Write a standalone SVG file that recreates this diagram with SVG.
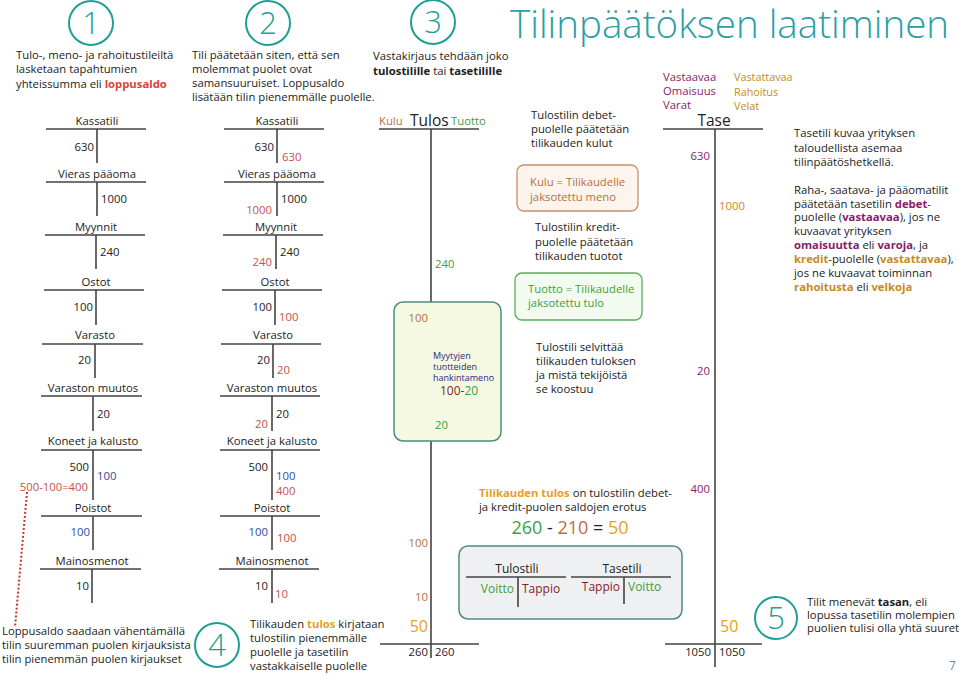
<svg xmlns="http://www.w3.org/2000/svg" width="959" height="675" viewBox="0 0 959 675">
<style>
text{font-family:"Open Sans","Noto Sans","Liberation Sans",sans-serif;font-size:11.3px;fill:#222}
.c{text-anchor:middle}
.e{text-anchor:end}
.b{font-weight:bold}
.ln{stroke:#444;stroke-width:1.6;fill:none}
.circ{fill:none;stroke:#1f9e94;stroke-width:2}
.num{font-size:31px;font-weight:300;fill:#1f9e94;text-anchor:middle}
.red{fill:#c9504a}
.rb{fill:#d9433a;font-weight:bold}
.blue{fill:#2e4ea0}
.brown{fill:#b5703f}
.green{fill:#3e9e3e}
.orange{fill:#e8a020}
.purple{fill:#8b1a6b}
.ob{fill:#c88a20}
.dred{fill:#8b1a2a}
.navy{fill:#2a2a7a}
.big{font-size:15.5px}
</style>

<text x="510" y="38" style="font-size:38.5px;font-weight:300;fill:#2b9ea8">Tilinpäätöksen laatiminen</text>

<g id="step1">
<circle class="circ" cx="91" cy="23" r="22"/><text class="num" x="91" y="34">1</text>
<text x="16" y="59">Tulo-, meno- ja rahoitustileiltä</text>
<text x="16" y="73">lasketaan tapahtumien</text>
<text x="16" y="88">yhteissumma eli <tspan class="rb">loppusaldo</tspan></text>
</g>

<g id="step2">
<circle class="circ" cx="268" cy="23" r="22"/><text class="num" x="268" y="34">2</text>
<text x="192" y="59">Tili päätetään siten, että sen</text>
<text x="192" y="73">molemmat puolet ovat</text>
<text x="192" y="87">samansuuruiset. Loppusaldo</text>
<text x="192" y="101">lisätään tilin pienemmälle puolelle.</text>
</g>

<g id="step3">
<circle class="circ" cx="433" cy="22" r="22"/><text class="num" x="433" y="33">3</text>
<text x="373" y="60">Vastakirjaus tehdään joko</text>
<text x="373" y="75"><tspan class="b">tulostilille</tspan> tai <tspan class="b">tasetilille</tspan></text>
</g>

<g id="connectors">
<path class="ln" d="M46 129H146M97 129V163"/>
<path class="ln" d="M46 182H146M97 182V216"/>
<path class="ln" d="M45 235H145M96 235V269"/>
<path class="ln" d="M44 290H144M96 290V325"/>
<path class="ln" d="M42 344H143M95 344V378"/>
<path class="ln" d="M41 396H142M93 396V431"/>
<path class="ln" d="M41 450H142M93 450V500"/>
<path class="ln" d="M41 516H142M93 516V550"/>
<path class="ln" d="M40 569H141M92 569V603"/>
<path d="M27 492L15 627" stroke="#c0392b" stroke-width="2" stroke-dasharray="2,2" fill="none"/>
<path class="ln" d="M224 129H324M277 129V163"/>
<path class="ln" d="M224 182H324M277 182V216"/>
<path class="ln" d="M223 235H323M276 235V269"/>
<path class="ln" d="M222 290H322M275 290V325"/>
<path class="ln" d="M221 344H321M273 344V378"/>
<path class="ln" d="M220 396H320M272 396V431"/>
<path class="ln" d="M220 450H320M272 450V500"/>
<path class="ln" d="M220 516H320M272 516V550"/>
<path class="ln" d="M219 569H319M272 569V603"/>
<path class="ln" d="M379 129H479M431 129V658M380 644H479" stroke="#333"/>
<path class="ln" d="M663 129H763M715 129V667M665 644H762" stroke="#333"/>
</g>

<g id="col1">
<text class="c" x="97" y="125">Kassatili</text>
<text class="e" x="94" y="151">630</text>
<text class="c" x="97" y="178">Vieras pääoma</text>
<text x="101" y="203">1000</text>
<text class="c" x="96" y="231">Myynnit</text>
<text x="100" y="256">240</text>
<text class="c" x="96" y="286">Ostot</text>
<text class="e" x="93" y="311">100</text>
<text class="c" x="95" y="339">Varasto</text>
<text class="e" x="91" y="364">20</text>
<text class="c" x="93" y="392">Varaston muutos</text>
<text x="97" y="418">20</text>
<text class="c" x="93" y="445">Koneet ja kalusto</text>
<text class="e" x="89" y="471">500</text>
<text class="blue" x="97" y="480">100</text>
<text class="red e" x="88" y="491">500-100=400</text>
<text class="c" x="93" y="512">Poistot</text>
<text class="blue e" x="90" y="536">100</text>
<text class="c" x="92" y="565">Mainosmenot</text>
<text class="e" x="89" y="590">10</text>
<text x="2" y="635">Loppusaldo saadaan vähentämällä</text>
<text x="2" y="649">tilin suuremman puolen kirjauksista</text>
<text x="2" y="663">tilin pienemmän puolen kirjaukset</text>
</g>

<g id="col2">
<text class="c" x="277" y="125">Kassatili</text>
<text class="e" x="274" y="151">630</text>
<text class="red" x="282" y="161">630</text>
<text class="c" x="277" y="178">Vieras pääoma</text>
<text x="281" y="203">1000</text>
<text class="red e" x="272" y="214">1000</text>
<text class="c" x="276" y="231">Myynnit</text>
<text x="280" y="256">240</text>
<text class="red e" x="272" y="266">240</text>
<text class="c" x="275" y="286">Ostot</text>
<text class="e" x="272" y="311">100</text>
<text class="red" x="279" y="321">100</text>
<text class="c" x="273" y="339">Varasto</text>
<text class="e" x="270" y="364">20</text>
<text class="red" x="277" y="374">20</text>
<text class="c" x="272" y="392">Varaston muutos</text>
<text x="276" y="418">20</text>
<text class="red e" x="268" y="428">20</text>
<text class="c" x="272" y="445">Koneet ja kalusto</text>
<text class="e" x="268" y="471">500</text>
<text class="blue" x="276" y="480">100</text>
<text class="red" x="276" y="495">400</text>
<text class="c" x="272" y="512">Poistot</text>
<text class="blue e" x="268" y="536">100</text>
<text class="red" x="277" y="542">100</text>
<text class="c" x="272" y="565">Mainosmenot</text>
<text class="e" x="268" y="590">10</text>
<text class="red" x="275" y="598">10</text>
</g>

<g id="step4">
<circle class="circ" cx="217" cy="645" r="22"/><text class="num" x="217" y="656">4</text>
<text x="250" y="628">Tilikauden <tspan class="orange b">tulos</tspan> kirjataan</text>
<text x="250" y="642">tulostilin pienemmälle</text>
<text x="250" y="656">puolelle ja tasetilin</text>
<text x="250" y="670">vastakkaiselle puolelle</text>
</g>

<g id="tulos">
<rect x="394" y="302" width="107" height="139" rx="9" fill="#f5f9e1" stroke="#4f8a80" stroke-width="1.5"/>
<text class="brown" x="379" y="125">Kulu</text>
<text class="big" x="410" y="126">Tulos</text>
<text class="green" x="451" y="125">Tuotto</text>
<text class="green" x="435" y="268">240</text>
<text class="brown e" x="428" y="322">100</text>
<text class="navy" x="433" y="359" style="font-size:9px">Myytyjen</text>
<text class="navy" x="433" y="370" style="font-size:9px">tuotteiden</text>
<text class="navy" x="433" y="381" style="font-size:9px">hankintameno</text>
<text x="440" y="395" style="font-size:12px"><tspan class="dred">100-</tspan><tspan class="green">20</tspan></text>
<text class="green" x="435" y="429">20</text>
<text class="brown e" x="428" y="547">100</text>
<text class="brown e" x="428" y="601">10</text>
<text class="orange e" x="428" y="632" style="font-size:16px">50</text>
<text class="e" x="428" y="656">260</text>
<text x="435" y="656">260</text>
</g>

<g id="kulu-info">
<text x="531" y="119">Tulostilin debet-</text>
<text x="531" y="133">puolelle päätetään</text>
<text x="531" y="147">tilikauden kulut</text>
<rect x="517" y="165" width="121" height="46" rx="7" fill="#fdf4ee" stroke="#c8906a" stroke-width="1.3"/>
<text class="brown" x="530" y="186">Kulu = Tilikaudelle</text>
<text class="brown" x="530" y="201">jaksotettu meno</text>
</g>

<g id="tuotto-info">
<text x="535" y="231">Tulostilin kredit-</text>
<text x="535" y="246">puolelle päätetään</text>
<text x="535" y="260">tilikauden tuotot</text>
<rect x="515" y="273" width="127" height="47" rx="7" fill="#f3faf0" stroke="#5aad5a" stroke-width="1.3"/>
<text class="green" x="528" y="293">Tuotto = Tilikaudelle</text>
<text class="green" x="528" y="307">jaksotettu tulo</text>
<text x="536" y="351">Tulostili selvittää</text>
<text x="536" y="365">tilikauden tuloksen</text>
<text x="536" y="379">ja mistä tekijöistä</text>
<text x="536" y="393">se koostuu</text>
</g>

<g id="tulos-info">
<text x="479" y="497"><tspan class="orange b">Tilikauden tulos</tspan> on tulostilin debet-</text>
<text x="479" y="511">ja kredit-puolen saldojen erotus</text>
<text class="c" x="570" y="534" style="font-size:18px"><tspan class="green">260</tspan> - <tspan class="brown">210</tspan> = <tspan class="orange">50</tspan></text>
</g>

<g id="legend">
<rect x="459" y="546" width="223" height="73" rx="9" fill="#eef0f2" stroke="#4e8a86" stroke-width="1.5"/>
<text class="c" x="517" y="573" style="font-size:12px">Tulostili</text>
<path class="ln" d="M466 577H566M518 577V607"/>
<text class="green e" x="514" y="593" style="font-size:12px">Voitto</text>
<text class="dred" x="522" y="593" style="font-size:12px">Tappio</text>
<text class="c" x="622" y="573" style="font-size:12px">Tasetili</text>
<path class="ln" d="M571 577H671M624 577V604"/>
<text class="dred e" x="620" y="591" style="font-size:12px">Tappio</text>
<text class="green" x="628" y="591" style="font-size:12px">Voitto</text>
</g>

<g id="tase">
<text class="purple" x="663" y="81">Vastaavaa</text>
<text class="purple" x="663" y="95">Omaisuus</text>
<text class="purple" x="663" y="109">Varat</text>
<text class="ob" x="734" y="81" style="font-size:10.8px">Vastattavaa</text>
<text class="ob" x="734" y="96" style="font-size:10.8px">Rahoitus</text>
<text class="ob" x="734" y="110" style="font-size:10.8px">Velat</text>
<text class="big c" x="714" y="126">Tase</text>
<text class="purple e" x="710" y="160">630</text>
<text class="ob" x="719" y="210">1000</text>
<text class="purple e" x="710" y="375">20</text>
<text class="purple e" x="710" y="493">400</text>
<text class="orange" x="720" y="632" style="font-size:16px">50</text>
<text class="e" x="711" y="656">1050</text>
<text x="719" y="656">1050</text>
</g>

<g id="tase-info">
<text x="794" y="137">Tasetili kuvaa yrityksen</text>
<text x="794" y="152">taloudellista asemaa</text>
<text x="794" y="166">tilinpäätöshetkellä.</text>
<text x="794" y="194">Raha-, saatava- ja pääomatilit</text>
<text x="794" y="208">päätetään tasetilin <tspan class="purple b">debet</tspan>-</text>
<text x="794" y="221">puolelle (<tspan class="purple b">vastaavaa</tspan>), jos ne</text>
<text x="794" y="235">kuvaavat yrityksen</text>
<text x="794" y="249"><tspan class="purple b">omaisuutta</tspan> eli <tspan class="purple b">varoja</tspan>, ja</text>
<text x="794" y="263"><tspan class="ob b">kredit</tspan>-puolelle (<tspan class="ob b">vastattavaa</tspan>),</text>
<text x="794" y="277">jos ne kuvaavat toiminnan</text>
<text x="794" y="291"><tspan class="ob b">rahoitusta</tspan> eli <tspan class="ob b">velkoja</tspan></text>
</g>

<g id="step5">
<circle class="circ" cx="776" cy="618" r="21"/><text class="num" x="776" y="629">5</text>
<text x="807" y="606">Tilit menevät <tspan class="b">tasan</tspan>, eli</text>
<text x="807" y="619">lopussa tasetilin molempien</text>
<text x="807" y="632">puolien tulisi olla yhtä suuret</text>
</g>

<text x="949" y="670" style="font-size:12px;fill:#5a8fb5">7</text>
</svg>
